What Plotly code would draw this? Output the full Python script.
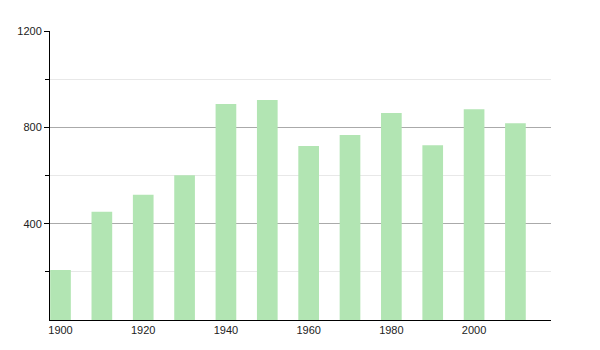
import plotly.graph_objects as go

years = [1900, 1910, 1920, 1930, 1940, 1950, 1960, 1970, 1980, 1990, 2000, 2010]
population = [208, 450, 520, 601, 897, 913, 722, 768, 859, 726, 875, 817]
x_tick_labels = [1900, 1920, 1940, 1960, 1980, 2000]
y_tick_labels = [400, 800, 1200]

fig = go.Figure(go.Bar(
    x=years, y=population, width=5,
    marker=dict(color="#b2e5b3", line=dict(width=0)),
))

fig.update_layout(
    width=600, height=350,
    margin=dict(l=50, r=49, t=31, b=30),
    paper_bgcolor="white", plot_bgcolor="white",
    showlegend=False,
    font=dict(family="Liberation Sans, Arial, sans-serif", size=11, color="#222"),
)
fig.update_xaxes(
    range=[1897.46, 2018.6],
    tickvals=x_tick_labels, ticktext=[str(v) for v in x_tick_labels],
    showgrid=False, showline=True, linecolor="black", linewidth=1,
    ticks="", ticklen=0, zeroline=False,
)
fig.update_yaxes(
    range=[0, 1200],
    tickvals=y_tick_labels, ticktext=[str(v) for v in y_tick_labels],
    showgrid=True, gridcolor="#aaaaaa", gridwidth=1,
    showline=True, linecolor="black", linewidth=1,
    ticks="outside", ticklen=5, tickcolor="black",
    zeroline=False,
    minor=dict(tickvals=[200, 600, 1000], ticks="outside", ticklen=4,
               tickcolor="black", showgrid=True, gridcolor="#e8e8e8"),
)

fig.write_html("out.html")
